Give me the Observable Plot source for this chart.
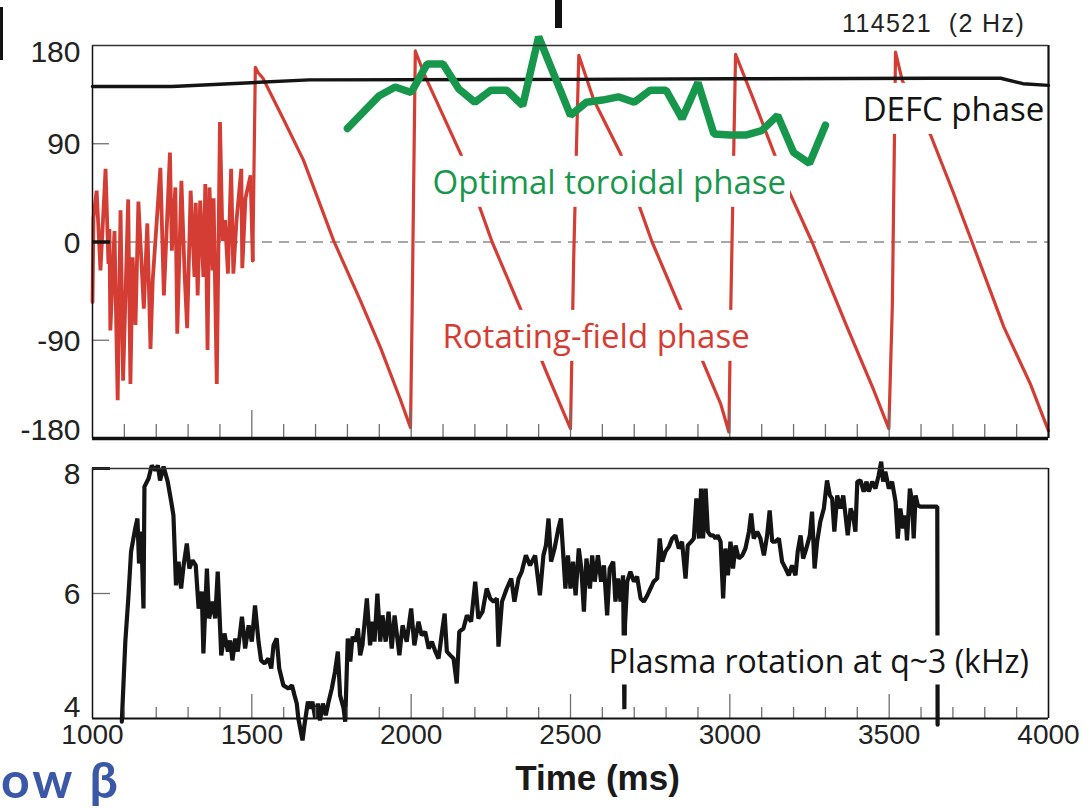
<!DOCTYPE html>
<html><head><meta charset="utf-8">
<script src="https://cdn.jsdelivr.net/npm/d3@7"></script>
<script src="https://cdn.jsdelivr.net/npm/@observablehq/plot@0.6"></script>
<style>
body{margin:0;background:#fff;}
#wrap{position:relative;width:1088px;height:808px;overflow:hidden;background:#fff;}
#topPanel,#bottomPanel{position:absolute;left:0;}
#topPanel{top:0}
#bottomPanel{top:445px}
#shot{position:absolute;left:842px;top:11px;font-family:"Liberation Sans",Arial,sans-serif;font-size:25px;letter-spacing:1.4px;line-height:1;color:#222;white-space:pre;}
#lowb{position:absolute;left:1px;top:754px;font-family:Lato,"Open Sans",sans-serif;font-weight:700;font-size:50px;letter-spacing:3px;line-height:1;color:#3b58a8;white-space:pre;}
#bar1{position:absolute;left:0;top:7px;width:3px;height:53px;background:#111;}
#bar2{position:absolute;left:555px;top:0;width:7px;height:28px;background:#111;}
</style></head>
<body><div id="wrap"><div id="topPanel"></div><div id="bottomPanel"></div>
<div id="shot">114521  (2 Hz)</div><div id="lowb">ow β</div><div id="bar1"></div><div id="bar2"></div></div>
<script>
// ---------- data ----------
const timeTicks = [1000,1500,2000,2500,3000,3500,4000];
const phaseTicks = [180,90,0,-90,-180];
const rotationTicks = [8,6,4];

// rotating-field phase (deg): noisy start, then sawtooth
const fieldNoise = [[1000,-55],[1003,22],[1013,47],[1025,-26],[1041,67],[1050,-20],[1053,12],[1056,-81],[1069,10],[1079,-145],[1088,29],[1096,-127],[1112,39],[1119,-130],[1126,-14],[1135,-76],[1144,37],[1161,-61],[1172,17],[1182,-98],[1189,-35],[1213,68],[1224,-49],[1243,82],[1249,-8],[1260,50],[1266,-84],[1279,56],[1289,-29],[1297,-79],[1308,47],[1320,-32],[1324,36],[1330,-49],[1338,38],[1348,-32],[1354,53],[1361,-99],[1367,50],[1377,-26],[1380,40],[1390,-130],[1400,110],[1408,1],[1416,20],[1425,-29],[1435,67],[1442,-29],[1452,20],[1467,67],[1470,-24],[1480,40],[1496,61],[1503,-17]];
const fieldSaw = [[1511,160],[1520,155],[1535,150],[1600,112],[1662,75],[1757,1],[1841,-54],[1904,-97],[1967,-145],[1998,-170],[2003,-64],[2013,175],[2045,151],[2155,81],[2254,0],[2343,-61],[2427,-121],[2500,-171],[2510,-15],[2526,171],[2573,130],[2657,81],[2756,0],[2845,-61],[2971,-148],[2997,-174],[3003,-60],[3018,172],[3075,130],[3180,50],[3258,0],[3368,-78],[3452,-136],[3499,-171],[3510,-58],[3520,174],[3541,148],[3630,98],[3703,44],[3760,0],[3860,-78],[3943,-130],[4000,-173]];
const defcPhase = [[1000,142.5],[1250,142.5],[1680,148.5],[2500,149],[3000,149.5],[3640,150],[3850,150],[3920,145],[4000,143.5]];
const optimalPhase = [[1800,104],[1900,134],[1950,142],[2000,137],[2050,163],[2100,163],[2150,140],[2200,128],[2250,139],[2300,139],[2350,125],[2400,188],[2450,152],[2500,116],[2550,128],[2600,130],[2650,133],[2700,128],[2750,139],[2800,139],[2850,113],[2900,146],[2950,99],[3000,98],[3050,98],[3100,102],[3150,116],[3200,82],[3250,72],[3300,107]];
// plasma rotation at q~3 (kHz)
const rotation = [[1092,3.95],[1103,5.23],[1113,5.97],[1121,6.67],[1134,7.04],[1141,7.2],[1146,6.48],[1153,6.99],[1160,5.76],[1163,7.71],[1176,7.84],[1186,8.05],[1197,7.97],[1205,8.05],[1212,7.81],[1223,8.03],[1236,7.79],[1247,7.47],[1254,7.25],[1262,6.13],[1270,6.51],[1278,6.08],[1286,6.45],[1296,6.8],[1304,6.4],[1314,6.53],[1324,6.45],[1333,5.76],[1343,6.03],[1348,5.04],[1359,6.4],[1366,5.6],[1377,5.87],[1385,5.6],[1393,6.35],[1404,5.01],[1414,5.36],[1425,5.07],[1432,5.25],[1439,4.93],[1448,5.28],[1456,5.07],[1469,5.63],[1479,5.12],[1490,5.49],[1500,5.23],[1510,5.81],[1521,5.23],[1529,4.93],[1540,4.88],[1552,4.96],[1561,4.8],[1568,5.17],[1578,5.28],[1586,4.8],[1599,4.53],[1615,4.48],[1626,4.53],[1634,4.37],[1641,4.24],[1646,4.0],[1659,3.65],[1665,3.89],[1676,4.27],[1683,4.16],[1690,4.27],[1699,4.0],[1707,4.24],[1714,3.97],[1723,4.24],[1732,4.05],[1741,4.27],[1751,4.48],[1761,4.75],[1770,5.07],[1777,4.37],[1788,4.16],[1793,3.95],[1801,5.28],[1809,4.91],[1816,5.31],[1824,5.23],[1833,5.44],[1840,5.01],[1847,5.17],[1861,5.92],[1871,5.17],[1879,5.55],[1885,5.23],[1894,6.0],[1903,5.23],[1910,5.65],[1920,5.23],[1929,5.71],[1939,5.12],[1948,5.65],[1963,5.01],[1973,5.49],[1986,5.23],[2000,5.76],[2010,5.17],[2023,5.55],[2033,5.33],[2044,5.39],[2055,5.12],[2065,5.23],[2076,5.07],[2086,4.96],[2097,5.39],[2105,5.68],[2112,5.07],[2123,5.01],[2133,4.96],[2143,4.56],[2151,5.39],[2164,5.44],[2175,5.65],[2188,5.55],[2201,6.19],[2211,5.6],[2224,5.71],[2237,6.08],[2248,5.92],[2259,5.87],[2269,5.92],[2274,5.15],[2285,5.87],[2300,6.08],[2314,6.24],[2324,5.87],[2337,6.24],[2347,6.35],[2360,6.61],[2373,6.45],[2389,6.61],[2404,5.97],[2415,6.61],[2423,6.77],[2431,7.2],[2439,6.51],[2450,6.72],[2462,7.04],[2470,7.2],[2484,6.08],[2492,6.61],[2500,6.08],[2508,6.51],[2516,5.97],[2526,6.72],[2534,6.4],[2542,5.71],[2550,6.56],[2561,6.08],[2568,6.61],[2576,6.19],[2586,6.61],[2596,6.19],[2605,6.45],[2615,5.65],[2623,6.4],[2634,6.51],[2641,5.87],[2649,6.24],[2657,5.87],[2665,6.29],[2667,5.3],[2669,4.15],[2671,5.5],[2678,6.19],[2688,6.35],[2699,6.19],[2709,6.27],[2720,5.92],[2730,5.87],[2741,5.97],[2751,6.08],[2761,6.19],[2772,6.24],[2780,6.88],[2788,6.51],[2798,6.67],[2809,6.75],[2819,6.88],[2829,6.93],[2840,6.72],[2850,6.83],[2861,6.24],[2868,6.77],[2879,6.83],[2887,6.88],[2895,7.52],[2903,6.88],[2910,7.68],[2916,6.88],[2924,7.68],[2931,6.99],[2939,6.93],[2948,6.93],[2955,6.88],[2962,6.93],[2971,6.83],[2979,5.92],[2986,6.72],[2994,6.29],[3002,6.83],[3010,6.4],[3018,6.77],[3028,6.56],[3039,6.61],[3049,6.72],[3060,6.99],[3067,7.28],[3075,6.88],[3086,6.99],[3096,6.88],[3107,6.61],[3117,6.93],[3125,7.33],[3133,6.83],[3143,6.83],[3154,6.88],[3164,6.51],[3175,6.4],[3185,6.29],[3195,6.45],[3206,6.29],[3213,6.67],[3222,6.93],[3230,6.56],[3240,6.72],[3251,6.93],[3258,7.31],[3266,6.4],[3274,6.83],[3284,7.15],[3295,7.36],[3305,7.81],[3314,7.57],[3321,7.52],[3328,6.99],[3337,7.57],[3347,7.36],[3356,7.57],[3363,7.25],[3370,6.93],[3379,7.36],[3387,7.25],[3394,6.99],[3400,7.79],[3410,7.81],[3420,7.63],[3429,7.79],[3436,7.63],[3447,7.79],[3457,7.68],[3467,7.89],[3475,8.11],[3481,7.79],[3488,7.95],[3499,7.68],[3509,7.79],[3520,7.47],[3527,6.88],[3535,7.36],[3544,7.04],[3551,7.25],[3556,6.85],[3565,7.68],[3572,7.47],[3577,6.88],[3583,7.57],[3590,7.41],[3598,7.39],[3651,7.39],[3652,3.9]];
// annotation anchors (time ms, value)
const defcLabel = {label:"DEFC phase", time:3987, value:120.6};
const optimalLabel = {label:"Optimal toroidal phase", time:2067, value:53.8};
const fieldLabel = {label:"Rotating-field phase", time:2098, value:-87.3};
const rotationLabel = {label:"Plasma rotation at q~3 (kHz)", time:2619, value:4.9};
const xTitle = "Time (ms)";

// ---------- style ----------
const TICK_FONT = "'Liberation Sans',Arial,sans-serif";
const LABEL_FONT = "'Open Sans','Noto Sans',sans-serif";
const RED = "#d43d33", GREEN = "#17974b", BLACK = "#141414", TICKC = "#707070";
const W = 1088, ML = 92, MR = 40, FW = W - ML - MR;
const minorTicks = d3.range(1100, 4000, 100).filter(t => t % 500 !== 0);
const majorTicks = timeTicks.filter(t => t > 1000 && t < 4000);
const xy = {x: d => d[0], y: d => d[1]};

function annot(a, color, anchor, size = 33) {
  return Plot.text([a], {x: "time", y: "value", text: "label", fill: color, fontSize: size,
    fontFamily: LABEL_FONT, textAnchor: anchor});
}
function ylabels(vals, dy) {
  return Plot.text(vals, {y: d => d, text: d => String(d), frameAnchor: "left", textAnchor: "end",
    dx: -12, dy, fontSize: 30, fontFamily: TICK_FONT, fill: "#222"});
}

// ---------- top panel ----------
const FH1 = 393;
const topChart = Plot.plot({
  width: W, height: 445, marginLeft: ML, marginRight: MR, marginTop: 45, marginBottom: 7,
  x: {domain: [1000, 4000], axis: null}, y: {domain: [-180, 180], axis: null},
  style: {background: "transparent", overflow: "visible"},
  marks: [
    Plot.ruleY([0], {stroke: "#8a8a8a", strokeWidth: 1.6, strokeDasharray: "10,7"}),
    Plot.line(fieldNoise, {...xy, stroke: RED, strokeWidth: 3.8, strokeLinejoin: "miter"}),
    Plot.line(fieldNoise.slice(-1).concat(fieldSaw), {...xy, stroke: RED, strokeWidth: 3.2, strokeLinejoin: "round"}),
    annot(defcLabel, BLACK, "end"),
    annot(optimalLabel, GREEN, "start"),
    annot(fieldLabel, RED, "start"),
    Plot.line(defcPhase, {...xy, stroke: BLACK, strokeWidth: 3.4}),
    Plot.line(optimalPhase, {...xy, stroke: GREEN, strokeWidth: 7.5, strokeLinejoin: "miter"}),
    Plot.ruleX(minorTicks, {insetTop: FH1 - 14, stroke: TICKC, strokeWidth: 1.3}),
    Plot.ruleX(majorTicks, {insetTop: FH1 - 28, stroke: TICKC, strokeWidth: 1.3}),
    Plot.ruleY([90, -90], {insetRight: FW - 17, stroke: TICKC, strokeWidth: 1.3}),
    Plot.ruleY([0], {insetRight: FW - 18, stroke: BLACK, strokeWidth: 3.5}),
    Plot.ruleX([1000], {stroke: "#111", strokeWidth: 1.5}),
    Plot.ruleX([4000], {stroke: "#111", strokeWidth: 2.2}),
    Plot.ruleY([180], {stroke: "#333", strokeWidth: 1.3}),
    Plot.ruleY([-180], {stroke: "#111", strokeWidth: 3.6}),
    ylabels(phaseTicks.filter(v => Math.abs(v) < 180), 1),
    ylabels([phaseTicks[0]], 7),
    ylabels([phaseTicks[phaseTicks.length - 1]], -8)
  ]
});

// ---------- bottom panel ----------
const FH2 = 250;
const bottomChart = Plot.plot({
  width: W, height: 363, marginLeft: ML, marginRight: MR, marginTop: 23, marginBottom: 90,
  x: {domain: [1000, 4000], axis: null}, y: {domain: [4, 8], axis: null},
  style: {background: "transparent", overflow: "visible"},
  marks: [
    Plot.line(rotation, {...xy, stroke: BLACK, strokeWidth: 4.2, strokeLinejoin: "miter"}),
    annot(rotationLabel, BLACK, "start", 32),
    Plot.ruleX(minorTicks, {insetTop: FH2 - 11, stroke: TICKC, strokeWidth: 1.3}),
    Plot.ruleX(majorTicks, {insetTop: FH2 - 24, stroke: TICKC, strokeWidth: 1.3}),
    Plot.ruleY([6], {insetRight: FW - 18, stroke: TICKC, strokeWidth: 1.3}),
    Plot.ruleY([8], {insetRight: FW - 18, stroke: BLACK, strokeWidth: 3}),
    Plot.ruleX([1000], {stroke: "#111", strokeWidth: 1.5}),
    Plot.ruleX([4000], {stroke: "#111", strokeWidth: 1.6}),
    Plot.ruleY([8], {stroke: "#333", strokeWidth: 1.3}),
    Plot.ruleY([4], {stroke: "#111", strokeWidth: 1.8}),
    ylabels([rotationTicks[0]], 6),
    ylabels([rotationTicks[1]], 1),
    ylabels([rotationTicks[2]], -11),
    Plot.text(timeTicks, {x: d => d, text: d => String(d), frameAnchor: "bottom", dy: 25,
      fontSize: 28, fontFamily: TICK_FONT, fill: "#222"}),
    Plot.text([xTitle], {text: d => d, frameAnchor: "bottom", dx: 27, dy: 71, fontSize: 35,
      fontWeight: "bold", fontFamily: "'Liberation Sans',Arial,sans-serif", fill: "#1a1a1a"})
  ]
});

document.getElementById("topPanel").appendChild(topChart);
document.getElementById("bottomPanel").appendChild(bottomChart);

// white boxes behind annotation labels (they interrupt lines drawn beneath)
const boxed = [defcLabel, optimalLabel, fieldLabel, rotationLabel].map(a => a.label);
for (const svg of [topChart, bottomChart]) {
  svg.querySelectorAll("text").forEach(t => {
    if (!boxed.includes(t.textContent)) return;
    const b = t.getBBox();
    const r = document.createElementNS("http://www.w3.org/2000/svg", "rect");
    r.setAttribute("x", b.x - 4); r.setAttribute("y", b.y - 3);
    r.setAttribute("width", b.width + 8); r.setAttribute("height", b.height + 6);
    r.setAttribute("fill", "white");
    if (t.getAttribute("transform")) r.setAttribute("transform", t.getAttribute("transform"));
    t.parentNode.insertBefore(r, t);
  });
}
</script></body></html>
